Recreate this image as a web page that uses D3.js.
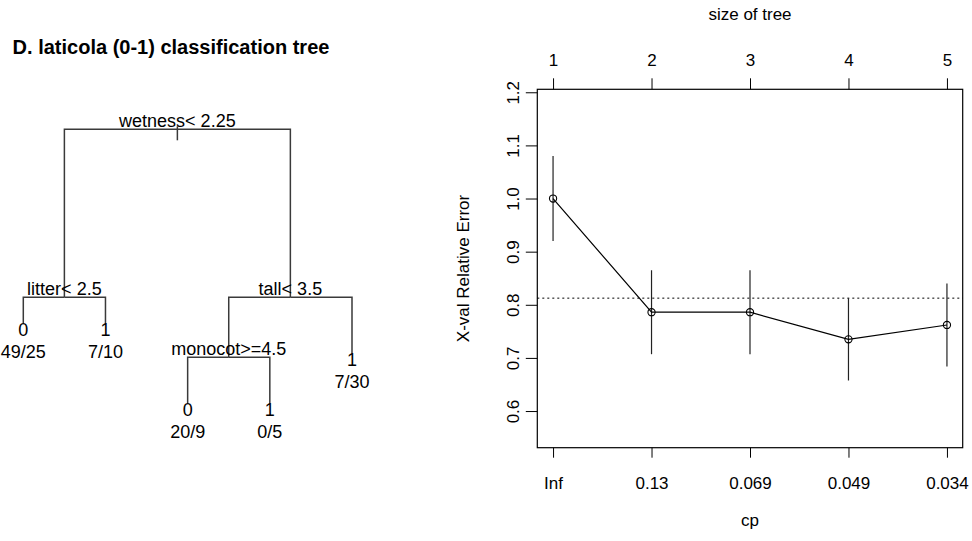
<!DOCTYPE html>
<html>
<head>
<meta charset="utf-8">
<script src="https://cdn.jsdelivr.net/npm/d3@7"></script>
<style>
  body { margin: 0; background: #fff; }
  text { font-family: "Liberation Sans", Arial, sans-serif; fill: #000; }
</style>
</head>
<body>
<div id="chart"></div>
<script>
// chart size
const width = 972, height = 541;

// --- tree data (rpart fit) ---
const nodeIds     = ["root", "litter", "leaf1", "leaf2", "tall", "monocot", "leaf3", "leaf4", "leaf5"];
const parentIds   = ["",     "root",   "litter", "litter", "root", "tall",  "monocot", "monocot", "tall"];
const splitLabels = ["wetness< 2.25", "litter< 2.5", "", "", "tall< 3.5", "monocot>=4.5", "", "", ""];
const leafClass   = ["", "", "0", "1", "", "", "0", "1", "1"];
const leafCounts  = ["", "", "49/25", "7/10", "", "", "20/9", "0/5", "7/30"];
// node heights as drawn by plot.rpart (relative deviance scale)
const nodeHeight  = [1.0, 0.387, 0.292, 0.292, 0.387, 0.168, 0.0, 0.0, 0.184];

// --- cp plot data ---
const treeSizes = [1, 2, 3, 4, 5];
const cpLabels  = ["Inf", "0.13", "0.069", "0.049", "0.034"];
const xerror    = [1.0, 0.786, 0.786, 0.735, 0.762];
const xstd      = [0.080, 0.079, 0.079, 0.0775, 0.078];
const minLine   = 0.8125;
const yTicks    = [0.6, 0.7, 0.8, 0.9, 1.0, 1.1, 1.2];

const svg = d3.select("#chart")
  .append("svg")
    .attr("width", width)
    .attr("height", height);

// ================= left panel: the tree =================
const rows = nodeIds.map(function(id, i) {
  return {id: id, parent: parentIds[i], split: splitLabels[i],
          cls: leafClass[i], n: leafCounts[i], h: nodeHeight[i]};
});
const root = d3.stratify()
  .id(d => d.id)
  .parentId(d => d.parent || null)(rows);

// leaves get 1..n in order, parents sit at the middle of their children
let leafIndex = 0;
root.eachAfter(function(node) {
  if (!node.children) {
    leafIndex += 1;
    node.xv = leafIndex;
  } else {
    node.xv = d3.mean(node.children, c => c.xv);
  }
});

const xTree = d3.scaleLinear().domain([1, 5]).range([23.3, 352]);
const yTree = d3.scaleLinear().domain([0, 1]).range([403.3, 129.3]);

const tree = svg.append("g").attr("class", "tree");

// title
tree.append("text")
  .attr("x", 171)
  .attr("y", 54)
  .attr("text-anchor", "middle")
  .style("font-weight", "bold")
  .style("font-size", "20px")
  .text("D. laticola (0-1) classification tree");

// branches: across at the parent's height, then down to the child
root.descendants().slice(1).forEach(function(node) {
  const px = xTree(node.parent.xv), py = yTree(node.parent.data.h);
  const cx = xTree(node.xv), cy = yTree(node.data.h);
  tree.append("path")
    .attr("d", "M" + px + "," + py + "H" + cx + "V" + cy)
    .attr("fill", "none")
    .attr("stroke", "#3a3a3a")
    .attr("stroke-width", 1.5);
});

// little stub through the root
tree.append("line")
  .attr("x1", xTree(root.xv)).attr("x2", xTree(root.xv))
  .attr("y1", yTree(root.data.h) - 3).attr("y2", yTree(root.data.h) + 11)
  .attr("stroke", "#3a3a3a")
  .attr("stroke-width", 1.5);

// split labels
root.descendants().filter(d => d.children).forEach(function(node) {
  tree.append("text")
    .attr("x", xTree(node.xv))
    .attr("y", yTree(node.data.h) - 2)
    .attr("text-anchor", "middle")
    .style("font-size", "18px")
    .text(node.data.split);
});

// leaf labels: class and counts
root.leaves().forEach(function(node) {
  tree.append("text")
    .attr("x", xTree(node.xv))
    .attr("y", yTree(node.data.h) + 13)
    .attr("text-anchor", "middle")
    .style("font-size", "18px")
    .text(node.data.cls);
  tree.append("text")
    .attr("x", xTree(node.xv))
    .attr("y", yTree(node.data.h) + 35)
    .attr("text-anchor", "middle")
    .style("font-size", "18px")
    .text(node.data.n);
});

// ================= right panel: plotcp =================
const box = {left: 537.3, right: 962.7, top: 89.3, bottom: 447.7};

const xScale = d3.scaleLinear()
  .domain([0.84, 5.16])
  .range([box.left, box.right]);
const yScale = d3.scaleLinear()
  .domain([0.531, 1.2056])
  .range([box.bottom, box.top]);

const cpg = svg.append("g").attr("class", "cp-plot");

// bottom axis: cp values
const xBottom = cpg.append("g")
  .attr("transform", "translate(0," + box.bottom + ")")
  .call(d3.axisBottom(xScale)
    .tickValues(treeSizes)
    .tickFormat((d, i) => cpLabels[i])
    .tickSize(10)
    .tickPadding(19));

// top axis: size of tree
const xTop = cpg.append("g")
  .attr("transform", "translate(0," + box.top + ")")
  .call(d3.axisTop(xScale)
    .tickValues(treeSizes)
    .tickFormat(d3.format("d"))
    .tickSize(11)
    .tickPadding(12));

// left axis
const yLeft = cpg.append("g")
  .attr("transform", "translate(" + box.left + ",0)")
  .call(d3.axisLeft(yScale)
    .tickValues(yTicks)
    .tickFormat(d3.format(".1f"))
    .tickSize(11.5));

yLeft.selectAll("text")
  .attr("transform", "rotate(-90)")
  .attr("x", 0)
  .attr("dx", null)
  .attr("dy", null)
  .attr("y", -18)
  .attr("text-anchor", "middle")
  .attr("dominant-baseline", "auto");

[xBottom, xTop, yLeft].forEach(function(ax) {
  ax.select(".domain").remove();
  ax.selectAll("line").attr("stroke", "#000");
  ax.selectAll("text")
    .style("font-family", "'Liberation Sans', Arial, sans-serif")
    .style("font-size", "17px");
});

// plot box
cpg.append("rect")
  .attr("x", box.left)
  .attr("y", box.top)
  .attr("width", box.right - box.left)
  .attr("height", box.bottom - box.top)
  .attr("fill", "none")
  .attr("stroke", "#000")
  .attr("stroke-width", 1.2);

// dotted reference line (min xerror + 1 SE)
cpg.append("line")
  .attr("x1", box.left).attr("x2", box.right)
  .attr("y1", yScale(minLine)).attr("y2", yScale(minLine))
  .attr("stroke", "#000")
  .attr("stroke-dasharray", "2,3");

const pts = treeSizes.map(function(s, i) {
  return {size: s, err: xerror[i], sd: xstd[i]};
});

// error bars
cpg.selectAll(".ebar")
  .data(pts)
  .enter()
  .append("line")
    .attr("class", "ebar")
    .attr("x1", d => xScale(d.size))
    .attr("x2", d => xScale(d.size))
    .attr("y1", d => yScale(d.err + d.sd))
    .attr("y2", d => yScale(d.err - d.sd))
    .attr("stroke", "#222")
    .attr("stroke-width", 1.2);

// connecting line
cpg.append("path")
  .datum(pts)
  .attr("fill", "none")
  .attr("stroke", "#000")
  .attr("stroke-width", 1.2)
  .attr("d", d3.line().x(d => xScale(d.size)).y(d => yScale(d.err)));

// open circles
cpg.selectAll(".pt")
  .data(pts)
  .enter()
  .append("circle")
    .attr("class", "pt")
    .attr("cx", d => xScale(d.size))
    .attr("cy", d => yScale(d.err))
    .attr("r", 3.6)
    .attr("fill", "none")
    .attr("stroke", "#000")
    .attr("stroke-width", 1.1);

// axis titles
cpg.append("text")
  .attr("x", (box.left + box.right) / 2)
  .attr("y", 20)
  .attr("text-anchor", "middle")
  .style("font-size", "17px")
  .text("size of tree");

cpg.append("text")
  .attr("x", (box.left + box.right) / 2)
  .attr("y", 526)
  .attr("text-anchor", "middle")
  .style("font-size", "17px")
  .text("cp");

cpg.append("text")
  .attr("transform", "translate(469," + ((box.top + box.bottom) / 2) + ") rotate(-90)")
  .attr("text-anchor", "middle")
  .style("font-size", "17px")
  .text("X-val Relative Error");
</script>
</body>
</html>
